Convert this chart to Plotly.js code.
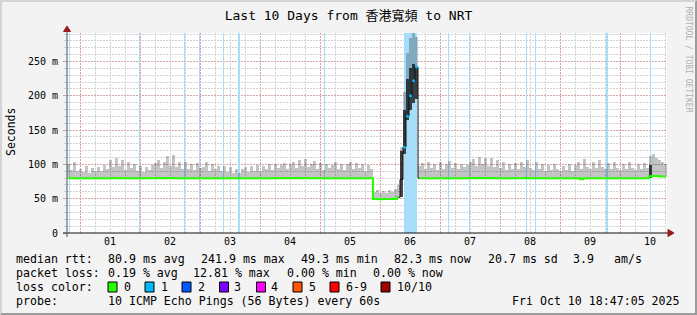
<!DOCTYPE html>
<html><head><meta charset="utf-8">
<script src="https://cdn.plot.ly/plotly-3.0.1.min.js"></script>
<style>
html,body{margin:0;padding:0;background:#f3f3f3;}
#wrap{position:relative;width:697px;height:315px;overflow:hidden;}
#chart{position:absolute;left:0;top:0;width:697px;height:315px;}
#frame{position:absolute;left:0;top:0;width:697px;height:315px;box-sizing:border-box;border-top:2px solid #d4d4d4;border-left:2px solid #d4d4d4;border-right:2px solid #9c9c9c;border-bottom:2px solid #9c9c9c;pointer-events:none;}
</style></head>
<body><div id="wrap"><div id="chart"></div><div id="frame"></div></div>
<script>
// ---------- data ----------
const startTime = '2025-09-30 18:47:05';
const endTime   = '2025-10-10 18:47:05';
const stepMinutes = 72;

const medianRtt = [
80.1,79.9,79.8,79.8,79.9,79.8,79.8,79.9,79.8,79.8,
79.8,79.9,79.8,79.8,79.9,80.0,79.9,79.8,79.8,79.9,
79.8,79.8,79.9,79.8,79.8,79.8,79.9,79.8,79.8,79.9,
80.0,79.9,79.8,79.9,80.1,79.9,79.8,79.8,79.9,79.8,
79.8,79.9,79.8,79.8,79.8,79.9,79.8,79.8,79.9,79.8,
79.8,79.8,79.9,79.8,79.8,79.8,79.9,79.8,79.8,79.8,
79.9,79.8,79.8,79.8,79.9,79.8,79.8,79.9,79.8,79.8,
79.8,79.9,80.0,79.8,79.9,79.8,80.0,79.9,79.8,80.1,
79.9,79.8,79.9,79.8,79.8,79.9,79.8,79.8,79.9,79.8,
79.8,79.9,79.8,79.8,79.9,79.8,79.8,79.9,79.8,79.8,
79.9,79.8,49.6,49.4,49.3,49.5,49.4,49.6,49.5,49.4,
52.0,78.0,125.0,170.0,200.0,222.0,241.9,79.9,79.8,79.8,
79.9,79.8,79.8,79.9,79.8,79.8,79.8,79.9,79.8,79.8,
79.9,79.8,79.8,79.8,79.9,80.0,79.9,80.1,79.9,80.0,
79.9,80.1,79.8,79.9,79.8,79.8,79.9,79.8,79.8,79.9,
79.8,79.9,79.8,80.0,79.9,79.8,79.9,79.8,79.8,79.8,
79.9,79.8,79.8,79.8,79.9,79.8,79.8,79.9,79.8,79.8,
79.8,78.2,79.8,79.9,79.8,79.8,79.9,79.8,79.8,79.9,
79.8,79.8,79.9,79.8,79.8,79.8,79.9,79.8,79.8,79.8,
79.9,79.8,79.8,79.9,82.6,83.1,83.0,82.8,82.5,82.3];

const maxRtt = [
101,92,103,90,94,89,97,88,95,91,
96,90,99,94,107,96,110,97,106,92,
104,95,100,91,97,89,96,92,99,102,
106,95,104,112,98,113,96,103,94,104,
93,101,92,102,95,96,103,91,100,93,
98,90,97,89,96,88,94,87,93,96,
89,97,91,99,90,98,93,101,92,100,
95,99,102,93,100,104,95,106,97,108,
96,100,105,94,102,92,101,95,99,103,
94,101,92,100,104,93,102,95,100,91,
99,93,60,62,58,61,59,63,60,64,
70,125,205,262,284,291,286,98,102,93,
104,95,101,92,103,94,100,105,95,102,
93,101,96,99,104,108,97,111,100,109,
98,110,96,106,95,103,92,101,94,102,
93,104,96,106,95,92,103,93,100,91,
99,92,101,93,90,98,92,100,91,99,
104,94,108,96,93,103,95,106,96,93,
102,94,104,95,92,101,93,103,95,92,
100,93,102,95,112,115,110,106,103,101];

// dense smoke core (darkest ping ranks) where it separates from the median
const coreIndex = [111,112,113,114,115,116,194];
const coreLow   = [52,115,165,180,190,195,80];
const coreHigh  = [120,180,225,240,246,242,99];

// loss events (1 of 10 pings lost)
const lossStart = ['2025-09-30 19:35','2025-10-01 23:35','2025-10-02 17:35','2025-10-02 23:35',
  '2025-10-03 09:11','2025-10-03 15:11','2025-10-05 01:35','2025-10-06 09:35',
  '2025-10-07 03:11','2025-10-07 11:35','2025-10-08 10:23','2025-10-08 13:59',
  '2025-10-09 18:23','2025-10-10 11:59'];
const lossMinutes = [24,24,24,24,24,48,24,312,24,24,24,24,48,24];

const dayTicks = ['2025-10-01 12:00','2025-10-02 12:00','2025-10-03 12:00','2025-10-04 12:00','2025-10-05 12:00',
  '2025-10-06 12:00','2025-10-07 12:00','2025-10-08 12:00','2025-10-09 12:00','2025-10-10 12:00'];
const dayLabels = ['01','02','03','04','05','06','07','08','09','10'];
const midnights = ['2025-10-01','2025-10-02','2025-10-03','2025-10-04','2025-10-05',
  '2025-10-06','2025-10-07','2025-10-08','2025-10-09','2025-10-10'];
const yTicks  = [0,50,100,150,200,250];
const yLabels = ['0','50 m','100 m','150 m','200 m','250 m'];
const yMax = 291.5;

const rttLabel = 'median rtt:';
const rttStats = ['80.9 ms avg','241.9 ms max','49.3 ms min','82.3 ms now','20.7 ms sd','3.9','am/s'];
const lossLabel = 'packet loss:';
const lossStats = ['0.19 % avg','12.81 % max','0.00 % min','0.00 % now'];
const lossColorLabel = 'loss color:';
const lossLabels = ['0','1','2','3','4','5','6-9','10/10'];
const lossColors = ['#26ff00','#00b8ff','#0059ff','#7e00ff','#ff00ff','#ff5500','#ff0000','#a10000'];
const probeLabel = 'probe:';
const probeText = '10 ICMP Echo Pings (56 Bytes) every 60s';
const stampText = 'Fri Oct 10 18:47:05 2025';
const titleText = 'Last 10 Days from 香港寬頻 to NRT';

// ---------- helpers ----------
function toMs(s){
  const [d,t] = s.split(' ');
  const [Y,M,D] = d.split('-').map(Number);
  const [h,m,sec] = (t||'00:00:00').split(':').map(Number);
  return Date.UTC(Y,M-1,D,h||0,m||0,sec||0);
}
function fmt(ms){ return new Date(ms).toISOString().replace('T',' ').slice(0,19); }
const t0 = toMs(startTime);
const stepMs = stepMinutes*60000;
const centers = medianRtt.map((_,i)=>fmt(t0+(i+0.5)*stepMs));

const MONO = 'DejaVu Sans Mono, Noto Sans CJK TC, monospace';
const L=67, T=33, W=600, H=200;
const px = x => (x-L)/W;
const py = y => (T+H-y)/H;

// ---------- traces ----------
const traces = [];
traces.push({
  type:'bar', x: lossStart.map((s,i)=>fmt(toMs(s)+lossMinutes[i]*30000)),
  y: lossStart.map(()=>yMax), base: 0,
  width: lossMinutes.map(m=>m*60000),
  marker:{color:'#a6defa', line:{width:0}}, hoverinfo:'skip', xaxis:'x', yaxis:'y'
});
traces.push({
  type:'bar', x: centers, base: medianRtt, y: maxRtt.map((v,i)=>v-medianRtt[i]),
  width: stepMs, marker:{color:'rgba(0,0,0,0.23)', line:{width:0}}, hoverinfo:'skip', xaxis:'x', yaxis:'y'
});
traces.push({
  type:'bar', x: coreIndex.map(i=>centers[i]), base: coreLow, y: coreHigh.map((v,k)=>v-coreLow[k]),
  width: stepMs*0.8, marker:{color:'rgba(25,25,25,0.8)', line:{width:0}}, hoverinfo:'skip', xaxis:'x2', yaxis:'y'
});
const spikeSet = new Set(coreIndex.slice(0,6));
traces.push({
  type:'scatter', mode:'lines', x: centers, y: medianRtt.map((v,i)=>spikeSet.has(i)?null:v),
  line:{color:'#26ff00', width:2, shape:'hvh'}, hoverinfo:'skip', xaxis:'x2', yaxis:'y'
});
traces.push({
  type:'scatter', mode:'lines', x: centers.slice(110,118), y: medianRtt.slice(110,118),
  line:{color:'#111', width:1, shape:'hvh'}, hoverinfo:'skip', xaxis:'x2', yaxis:'y'
});
traces.push({
  type:'scatter', mode:'markers', x: coreIndex.slice(1,6).map(i=>centers[i]), y: coreIndex.slice(1,6).map(i=>medianRtt[i]),
  marker:{color:'#00b8ff', size:3}, hoverinfo:'skip', xaxis:'x2', yaxis:'y'
});

// ---------- annotations ----------
const ann = [];
function txt(text,x,y,extra){
  ann.push(Object.assign({text, xref:'paper', yref:'paper', x:px(x), y:py(y), xanchor:'left', yanchor:'middle',
    showarrow:false, borderpad:0, font:{family:MONO, size:11.6, color:'#000'}}, extra||{}));
}
txt(rttLabel,15,259);
[107,200,300,393,487,572,613].forEach((x,i)=>txt(rttStats[i],x,259));
txt(lossLabel,15,273);
[107,192,286,372].forEach((x,i)=>txt(lossStats[i],x,273));
txt(lossColorLabel,15,287);
const boxX = [108,145,182,219.5,256.5,293,330,381];
const labX = [123,160,196.5,233,270,307.5,344.5,395.5];
lossLabels.forEach((l,i)=>txt(l,labX[i],287));
txt(probeLabel,15,301);
txt(probeText,107,301);
txt(stampText,681,301,{xanchor:'right'});
txt('Seconds',11,132,{textangle:-90, xanchor:'center', font:{family:MONO,size:11.5,color:'#000'}});
txt('RRDTOOL / TOBI OETIKER',688.5,59,{textangle:90, xanchor:'center', font:{family:MONO,size:8,color:'#b0b0b0'}});

// ---------- shapes ----------
const shapes = [];
lossColors.forEach((c,i)=>shapes.push({type:'rect', xref:'paper', yref:'paper',
  x0:px(boxX[i]), x1:px(boxX[i]+9), y0:py(292), y1:py(282), fillcolor:c, line:{color:'#000', width:1}}));
shapes.push({type:'line', xref:'paper', yref:'paper', x0:px(63), x1:px(668), y0:py(233), y1:py(233), line:{color:'#111', width:1}});
shapes.push({type:'line', xref:'paper', yref:'paper', x0:px(67), x1:px(67), y0:py(237), y1:py(31), line:{color:'#505050', width:1}});
shapes.push({type:'path', xref:'paper', yref:'paper',
  path:`M ${px(668)} ${py(229.5)} L ${px(674)} ${py(233)} L ${px(668)} ${py(236.5)} Z`, fillcolor:'#9b1b1b', line:{color:'#9b1b1b', width:1}});
shapes.push({type:'path', xref:'paper', yref:'paper',
  path:`M ${px(63.5)} ${py(31.5)} L ${px(67)} ${py(26)} L ${px(70.5)} ${py(31.5)} Z`, fillcolor:'#9b1b1b', line:{color:'#9b1b1b', width:1}});

// ---------- layout ----------
const gridGray = '#d2d2d2';
const gridRed = 'rgba(215,100,100,0.42)';
const DASH = '2px,1px';
const layout = {
  width:697, height:315,
  margin:{l:L, r:697-L-W, t:T, b:315-T-H, pad:0},
  paper_bgcolor:'#f3f3f3', plot_bgcolor:'#ffffff',
  showlegend:false, barmode:'overlay', bargap:0,
  title:{text:titleText, font:{family:MONO, size:13, color:'#000'}, x:0.5, xref:'container', xanchor:'center',
    y:1-15/315, yref:'container', yanchor:'middle'},
  xaxis:{type:'date', range:[startTime,endTime], tickmode:'array', tickvals:midnights, showticklabels:false,
    ticks:'', showgrid:true, gridcolor:gridRed, griddash:DASH, gridwidth:1, zeroline:false, showline:false,
    minor:{tickmode:'linear', tick0:'2025-10-01 00:00:00', dtick:21600000, showgrid:true, gridcolor:gridGray, griddash:DASH, gridwidth:1, ticks:''},
    fixedrange:true},
  xaxis2:{type:'date', overlaying:'x', anchor:'y', side:'bottom', range:[startTime,endTime], tickmode:'array',
    tickvals:dayTicks, ticktext:dayLabels, showgrid:false, ticks:'', zeroline:false, showline:false,
    tickfont:{family:MONO, size:10, color:'#000'}, ticklabelstandoff:1, fixedrange:true},
  yaxis:{range:[0,yMax], tickmode:'array', tickvals:yTicks, ticktext:yLabels, showgrid:true, gridcolor:gridRed,
    griddash:DASH, zeroline:false, showline:false, ticks:'outside', ticklen:3, tickcolor:'#d0a0a0',
    ticklabelstandoff:3,
    tickfont:{family:MONO, size:10, color:'#000'},
    minor:{tickmode:'linear', tick0:0, dtick:10, showgrid:true, gridcolor:gridGray, griddash:DASH, ticks:'outside', ticklen:2, tickcolor:'#cccccc'},
    fixedrange:true},
  annotations:ann, shapes:shapes
};
Plotly.newPlot('chart', traces, layout, {displayModeBar:false});
</script>
</body></html>
